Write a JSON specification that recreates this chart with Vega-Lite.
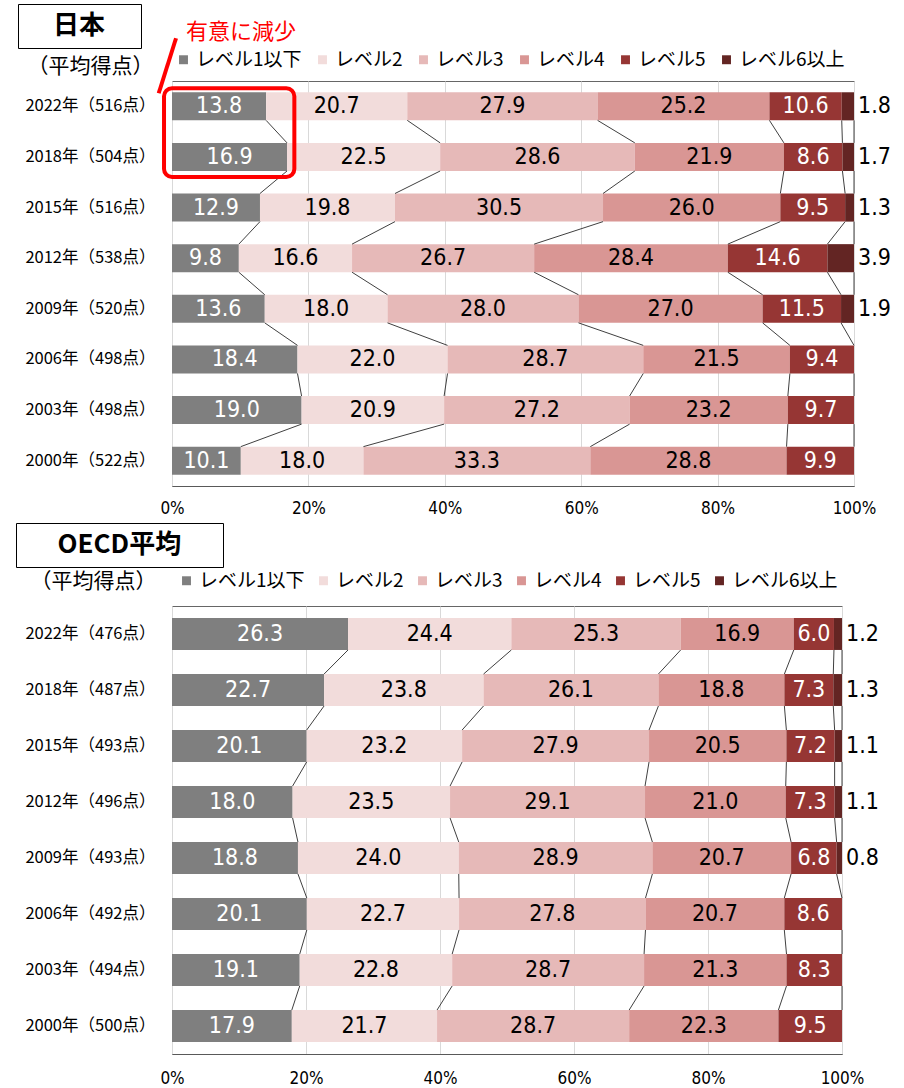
{
  "$schema": "https://vega.github.io/schema/vega-lite/v6.json",
  "padding": {"left": 15, "top": 3, "right": 5, "bottom": 0},
  "spacing": 5,
  "resolve": {"scale": {"color": "independent", "strokeDash": "independent"}, "legend": {"color": "independent", "strokeDash": "independent"}},
  "config": {
    "font": "Noto Sans CJK JP",
    "view": {"stroke": "#666666", "strokeWidth": 1},
    "axis": {"labelColor": "black", "titleColor": "black", "ticks": false}
  },
  "datasets": {
    "note": [{"note": "有意に減少"}],
    "jp": [
      {"group": "日本", "year": 2022, "label": "2022年（516点）", "level": "レベル1以下", "value": 13.8},
      {"group": "日本", "year": 2022, "label": "2022年（516点）", "level": "レベル2", "value": 20.7},
      {"group": "日本", "year": 2022, "label": "2022年（516点）", "level": "レベル3", "value": 27.9},
      {"group": "日本", "year": 2022, "label": "2022年（516点）", "level": "レベル4", "value": 25.2},
      {"group": "日本", "year": 2022, "label": "2022年（516点）", "level": "レベル5", "value": 10.6},
      {"group": "日本", "year": 2022, "label": "2022年（516点）", "level": "レベル6以上", "value": 1.8},
      {"group": "日本", "year": 2018, "label": "2018年（504点）", "level": "レベル1以下", "value": 16.9},
      {"group": "日本", "year": 2018, "label": "2018年（504点）", "level": "レベル2", "value": 22.5},
      {"group": "日本", "year": 2018, "label": "2018年（504点）", "level": "レベル3", "value": 28.6},
      {"group": "日本", "year": 2018, "label": "2018年（504点）", "level": "レベル4", "value": 21.9},
      {"group": "日本", "year": 2018, "label": "2018年（504点）", "level": "レベル5", "value": 8.6},
      {"group": "日本", "year": 2018, "label": "2018年（504点）", "level": "レベル6以上", "value": 1.7},
      {"group": "日本", "year": 2015, "label": "2015年（516点）", "level": "レベル1以下", "value": 12.9},
      {"group": "日本", "year": 2015, "label": "2015年（516点）", "level": "レベル2", "value": 19.8},
      {"group": "日本", "year": 2015, "label": "2015年（516点）", "level": "レベル3", "value": 30.5},
      {"group": "日本", "year": 2015, "label": "2015年（516点）", "level": "レベル4", "value": 26.0},
      {"group": "日本", "year": 2015, "label": "2015年（516点）", "level": "レベル5", "value": 9.5},
      {"group": "日本", "year": 2015, "label": "2015年（516点）", "level": "レベル6以上", "value": 1.3},
      {"group": "日本", "year": 2012, "label": "2012年（538点）", "level": "レベル1以下", "value": 9.8},
      {"group": "日本", "year": 2012, "label": "2012年（538点）", "level": "レベル2", "value": 16.6},
      {"group": "日本", "year": 2012, "label": "2012年（538点）", "level": "レベル3", "value": 26.7},
      {"group": "日本", "year": 2012, "label": "2012年（538点）", "level": "レベル4", "value": 28.4},
      {"group": "日本", "year": 2012, "label": "2012年（538点）", "level": "レベル5", "value": 14.6},
      {"group": "日本", "year": 2012, "label": "2012年（538点）", "level": "レベル6以上", "value": 3.9},
      {"group": "日本", "year": 2009, "label": "2009年（520点）", "level": "レベル1以下", "value": 13.6},
      {"group": "日本", "year": 2009, "label": "2009年（520点）", "level": "レベル2", "value": 18.0},
      {"group": "日本", "year": 2009, "label": "2009年（520点）", "level": "レベル3", "value": 28.0},
      {"group": "日本", "year": 2009, "label": "2009年（520点）", "level": "レベル4", "value": 27.0},
      {"group": "日本", "year": 2009, "label": "2009年（520点）", "level": "レベル5", "value": 11.5},
      {"group": "日本", "year": 2009, "label": "2009年（520点）", "level": "レベル6以上", "value": 1.9},
      {"group": "日本", "year": 2006, "label": "2006年（498点）", "level": "レベル1以下", "value": 18.4},
      {"group": "日本", "year": 2006, "label": "2006年（498点）", "level": "レベル2", "value": 22.0},
      {"group": "日本", "year": 2006, "label": "2006年（498点）", "level": "レベル3", "value": 28.7},
      {"group": "日本", "year": 2006, "label": "2006年（498点）", "level": "レベル4", "value": 21.5},
      {"group": "日本", "year": 2006, "label": "2006年（498点）", "level": "レベル5", "value": 9.4},
      {"group": "日本", "year": 2003, "label": "2003年（498点）", "level": "レベル1以下", "value": 19.0},
      {"group": "日本", "year": 2003, "label": "2003年（498点）", "level": "レベル2", "value": 20.9},
      {"group": "日本", "year": 2003, "label": "2003年（498点）", "level": "レベル3", "value": 27.2},
      {"group": "日本", "year": 2003, "label": "2003年（498点）", "level": "レベル4", "value": 23.2},
      {"group": "日本", "year": 2003, "label": "2003年（498点）", "level": "レベル5", "value": 9.7},
      {"group": "日本", "year": 2000, "label": "2000年（522点）", "level": "レベル1以下", "value": 10.1},
      {"group": "日本", "year": 2000, "label": "2000年（522点）", "level": "レベル2", "value": 18.0},
      {"group": "日本", "year": 2000, "label": "2000年（522点）", "level": "レベル3", "value": 33.3},
      {"group": "日本", "year": 2000, "label": "2000年（522点）", "level": "レベル4", "value": 28.8},
      {"group": "日本", "year": 2000, "label": "2000年（522点）", "level": "レベル5", "value": 9.9}
    ],
    "oecd": [
      {"group": "OECD平均", "year": 2022, "label": "2022年（476点）", "level": "レベル1以下", "value": 26.3},
      {"group": "OECD平均", "year": 2022, "label": "2022年（476点）", "level": "レベル2", "value": 24.4},
      {"group": "OECD平均", "year": 2022, "label": "2022年（476点）", "level": "レベル3", "value": 25.3},
      {"group": "OECD平均", "year": 2022, "label": "2022年（476点）", "level": "レベル4", "value": 16.9},
      {"group": "OECD平均", "year": 2022, "label": "2022年（476点）", "level": "レベル5", "value": 6.0},
      {"group": "OECD平均", "year": 2022, "label": "2022年（476点）", "level": "レベル6以上", "value": 1.2},
      {"group": "OECD平均", "year": 2018, "label": "2018年（487点）", "level": "レベル1以下", "value": 22.7},
      {"group": "OECD平均", "year": 2018, "label": "2018年（487点）", "level": "レベル2", "value": 23.8},
      {"group": "OECD平均", "year": 2018, "label": "2018年（487点）", "level": "レベル3", "value": 26.1},
      {"group": "OECD平均", "year": 2018, "label": "2018年（487点）", "level": "レベル4", "value": 18.8},
      {"group": "OECD平均", "year": 2018, "label": "2018年（487点）", "level": "レベル5", "value": 7.3},
      {"group": "OECD平均", "year": 2018, "label": "2018年（487点）", "level": "レベル6以上", "value": 1.3},
      {"group": "OECD平均", "year": 2015, "label": "2015年（493点）", "level": "レベル1以下", "value": 20.1},
      {"group": "OECD平均", "year": 2015, "label": "2015年（493点）", "level": "レベル2", "value": 23.2},
      {"group": "OECD平均", "year": 2015, "label": "2015年（493点）", "level": "レベル3", "value": 27.9},
      {"group": "OECD平均", "year": 2015, "label": "2015年（493点）", "level": "レベル4", "value": 20.5},
      {"group": "OECD平均", "year": 2015, "label": "2015年（493点）", "level": "レベル5", "value": 7.2},
      {"group": "OECD平均", "year": 2015, "label": "2015年（493点）", "level": "レベル6以上", "value": 1.1},
      {"group": "OECD平均", "year": 2012, "label": "2012年（496点）", "level": "レベル1以下", "value": 18.0},
      {"group": "OECD平均", "year": 2012, "label": "2012年（496点）", "level": "レベル2", "value": 23.5},
      {"group": "OECD平均", "year": 2012, "label": "2012年（496点）", "level": "レベル3", "value": 29.1},
      {"group": "OECD平均", "year": 2012, "label": "2012年（496点）", "level": "レベル4", "value": 21.0},
      {"group": "OECD平均", "year": 2012, "label": "2012年（496点）", "level": "レベル5", "value": 7.3},
      {"group": "OECD平均", "year": 2012, "label": "2012年（496点）", "level": "レベル6以上", "value": 1.1},
      {"group": "OECD平均", "year": 2009, "label": "2009年（493点）", "level": "レベル1以下", "value": 18.8},
      {"group": "OECD平均", "year": 2009, "label": "2009年（493点）", "level": "レベル2", "value": 24.0},
      {"group": "OECD平均", "year": 2009, "label": "2009年（493点）", "level": "レベル3", "value": 28.9},
      {"group": "OECD平均", "year": 2009, "label": "2009年（493点）", "level": "レベル4", "value": 20.7},
      {"group": "OECD平均", "year": 2009, "label": "2009年（493点）", "level": "レベル5", "value": 6.8},
      {"group": "OECD平均", "year": 2009, "label": "2009年（493点）", "level": "レベル6以上", "value": 0.8},
      {"group": "OECD平均", "year": 2006, "label": "2006年（492点）", "level": "レベル1以下", "value": 20.1},
      {"group": "OECD平均", "year": 2006, "label": "2006年（492点）", "level": "レベル2", "value": 22.7},
      {"group": "OECD平均", "year": 2006, "label": "2006年（492点）", "level": "レベル3", "value": 27.8},
      {"group": "OECD平均", "year": 2006, "label": "2006年（492点）", "level": "レベル4", "value": 20.7},
      {"group": "OECD平均", "year": 2006, "label": "2006年（492点）", "level": "レベル5", "value": 8.6},
      {"group": "OECD平均", "year": 2003, "label": "2003年（494点）", "level": "レベル1以下", "value": 19.1},
      {"group": "OECD平均", "year": 2003, "label": "2003年（494点）", "level": "レベル2", "value": 22.8},
      {"group": "OECD平均", "year": 2003, "label": "2003年（494点）", "level": "レベル3", "value": 28.7},
      {"group": "OECD平均", "year": 2003, "label": "2003年（494点）", "level": "レベル4", "value": 21.3},
      {"group": "OECD平均", "year": 2003, "label": "2003年（494点）", "level": "レベル5", "value": 8.3},
      {"group": "OECD平均", "year": 2000, "label": "2000年（500点）", "level": "レベル1以下", "value": 17.9},
      {"group": "OECD平均", "year": 2000, "label": "2000年（500点）", "level": "レベル2", "value": 21.7},
      {"group": "OECD平均", "year": 2000, "label": "2000年（500点）", "level": "レベル3", "value": 28.7},
      {"group": "OECD平均", "year": 2000, "label": "2000年（500点）", "level": "レベル4", "value": 22.3},
      {"group": "OECD平均", "year": 2000, "label": "2000年（500点）", "level": "レベル5", "value": 9.5}
    ]
  },
  "vconcat": [
    {
      "width": 682,
      "height": 405,
      "layer": [
        {
          "data": {"name": "jp"},
          "transform": [
            {"stack": "value", "groupby": ["label"], "sort": [{"field": "level"}], "offset": "normalize", "as": ["x0", "x1"]}
          ],
          "layer": [
            {
              "mark": {"type": "bar"},
              "encoding": {
                "y": {
                  "field": "label", "type": "nominal",
                  "scale": {"domain": ["2022年（516点）", "2018年（504点）", "2015年（516点）", "2012年（538点）", "2009年（520点）", "2006年（498点）", "2003年（498点）", "2000年（522点）"], "paddingInner": 0.445, "paddingOuter": 0.2225},
                  "axis": {"title": "（平均得点）", "titleAngle": 0, "titleAlign": "right", "titleBaseline": "middle", "titleX": -19, "titleY": -15, "titleFontSize": 21, "titleFontWeight": "normal", "labelFontSize": 16.5, "labelPadding": 17, "domain": false}
                },
                "x": {
                  "field": "x0", "type": "quantitative",
                  "scale": {"domain": [0, 1], "nice": false},
                  "axis": {"format": "%", "values": [0, 0.2, 0.4, 0.6, 0.8, 1], "title": null, "labelFont": "DejaVu Sans Condensed, Liberation Sans, sans-serif", "labelFontSize": 17, "labelPadding": 14, "labelFlush": false, "domainColor": "#595959", "gridColor": "#d9d9d9"}
                },
                "x2": {"field": "x1"},
                "color": {
                  "field": "level", "type": "nominal",
                  "scale": {"domain": ["レベル1以下", "レベル2", "レベル3", "レベル4", "レベル5", "レベル6以上"], "range": ["#7f7f7f", "#f2dcdb", "#e6b9b8", "#d99694", "#963634", "#632523"]},
                  "legend": {"title": null, "orient": "none", "legendX": 2, "legendY": -31, "direction": "horizontal", "symbolType": "square", "symbolSize": 80, "symbolStrokeWidth": 0, "labelFontSize": 19, "labelColor": "black", "columnPadding": 11, "labelOffset": 3}
                },
                "strokeDash": {
                  "field": "group", "type": "nominal",
                  "scale": {"range": [[1, 0]]},
                  "legend": {"title": "\u200b\u3000日本\u3000\u200b", "values": [], "orient": "none", "legendX": -154, "legendY": -77, "strokeColor": "black", "padding": 9, "titleFontSize": 26, "titleFontWeight": "bold", "titleColor": "black", "titlePadding": 0, "titleLimit": 400}
                }
              }
            },
            {
              "transform": [
                {"window": [{"op": "lead", "field": "x1", "as": "nx1"}, {"op": "lead", "field": "label", "as": "nlabel"}], "groupby": ["level"], "sort": [{"field": "year", "order": "descending"}]},
                {"filter": "datum.nlabel != null"}
              ],
              "mark": {"type": "rule", "color": "#404040", "strokeWidth": 1},
              "encoding": {
                "x": {"field": "x1", "type": "quantitative"},
                "x2": {"field": "nx1"},
                "y": {"field": "label", "type": "nominal", "bandPosition": 1},
                "y2": {"field": "nlabel", "bandPosition": 0}
              }
            },
            {
              "transform": [
                {"filter": "datum.level !== 'レベル6以上'"},
                {"fold": ["x0", "x1"], "as": ["k", "v"]},
                {"aggregate": [{"op": "mean", "field": "v", "as": "mid"}], "groupby": ["label", "level", "value"]}
              ],
              "mark": {"type": "text", "font": "DejaVu Sans Condensed, Liberation Sans, sans-serif", "fontSize": 23, "baseline": "middle"},
              "encoding": {
                "x": {"field": "mid", "type": "quantitative"},
                "y": {"field": "label", "type": "nominal"},
                "text": {"field": "value", "type": "quantitative", "format": ".1f"},
                "color": {"condition": {"test": "datum.level === 'レベル1以下' || datum.level === 'レベル5'", "value": "white"}, "value": "black"}
              }
            },
            {
              "transform": [{"filter": "datum.level === 'レベル6以上'"}],
              "mark": {"type": "text", "font": "DejaVu Sans Condensed, Liberation Sans, sans-serif", "fontSize": 23, "baseline": "middle", "align": "left", "dx": 4, "color": "black"},
              "encoding": {
                "x": {"field": "x1", "type": "quantitative"},
                "y": {"field": "label", "type": "nominal"},
                "text": {"field": "value", "type": "quantitative", "format": ".1f"}
              }
            }
          ]
        },
        {
          "data": {"name": "note"},
          "mark": {"type": "rect", "filled": false, "stroke": "#ff0000", "strokeWidth": 4, "cornerRadius": 8, "yOffset": -4, "y2Offset": 6},
          "encoding": {
            "x": {"datum": -0.0117, "type": "quantitative"},
            "x2": {"datum": 0.1794},
            "y": {"datum": "2022年（516点）", "type": "nominal", "bandPosition": 0},
            "y2": {"datum": "2018年（504点）", "bandPosition": 1}
          }
        },
        {
          "data": {"name": "note"},
          "mark": {"type": "rule", "stroke": "#ff0000", "strokeWidth": 4, "yOffset": 1, "y2Offset": -54},
          "encoding": {
            "x": {"datum": -0.0195, "type": "quantitative"},
            "x2": {"datum": 0.0059},
            "y": {"datum": "2022年（516点）", "type": "nominal", "bandPosition": 0},
            "y2": {"datum": "2022年（516点）", "bandPosition": 0}
          }
        },
        {
          "data": {"name": "note"},
          "mark": {"type": "text", "color": "#ff0000", "fontSize": 22, "fontWeight": "normal", "align": "left", "baseline": "middle", "dy": -60},
          "encoding": {
            "text": {"field": "note", "type": "nominal"},
            "x": {"datum": 0.0205, "type": "quantitative"},
            "y": {"datum": "2022年（516点）", "type": "nominal", "bandPosition": 0}
          }
        }
      ]
    },
    {
      "width": 670,
      "height": 448,
      "data": {"name": "oecd"},
      "transform": [
        {"stack": "value", "groupby": ["label"], "sort": [{"field": "level"}], "offset": "normalize", "as": ["x0", "x1"]}
      ],
      "layer": [
        {
          "mark": {"type": "bar"},
          "encoding": {
            "y": {
              "field": "label", "type": "nominal",
              "scale": {"domain": ["2022年（476点）", "2018年（487点）", "2015年（493点）", "2012年（496点）", "2009年（493点）", "2006年（492点）", "2003年（494点）", "2000年（500点）"], "paddingInner": 0.43, "paddingOuter": 0.215},
              "axis": {"title": "（平均得点）", "titleAngle": 0, "titleAlign": "right", "titleBaseline": "middle", "titleX": -16, "titleY": -25, "titleFontSize": 21, "titleFontWeight": "normal", "labelFontSize": 16.5, "labelPadding": 17, "domain": false}
            },
            "x": {
              "field": "x0", "type": "quantitative",
              "scale": {"domain": [0, 1], "nice": false},
              "axis": {"format": "%", "values": [0, 0.2, 0.4, 0.6, 0.8, 1], "title": null, "labelFont": "DejaVu Sans Condensed, Liberation Sans, sans-serif", "labelFontSize": 17, "labelPadding": 16, "labelFlush": false, "domainColor": "#595959", "gridColor": "#d9d9d9"}
            },
            "x2": {"field": "x1"},
            "color": {
              "field": "level", "type": "nominal",
              "scale": {"domain": ["レベル1以下", "レベル2", "レベル3", "レベル4", "レベル5", "レベル6以上"], "range": ["#7f7f7f", "#f2dcdb", "#e6b9b8", "#d99694", "#963634", "#632523"]},
              "legend": {"title": null, "orient": "none", "legendX": 5, "legendY": -35, "direction": "horizontal", "symbolType": "square", "symbolSize": 80, "symbolStrokeWidth": 0, "labelFontSize": 19, "labelColor": "black", "columnPadding": 9, "labelOffset": 3}
            },
            "strokeDash": {
              "field": "group", "type": "nominal",
              "scale": {"range": [[1, 0]]},
              "legend": {"title": "\u200b\u2005\u3000OECD平均\u3000\u2005\u200b", "values": [], "orient": "none", "legendX": -156, "legendY": -83, "strokeColor": "black", "padding": 9, "titleFontSize": 26, "titleFontWeight": "bold", "titleColor": "black", "titlePadding": 0, "titleLimit": 400}
            }
          }
        },
        {
          "transform": [
            {"window": [{"op": "lead", "field": "x1", "as": "nx1"}, {"op": "lead", "field": "label", "as": "nlabel"}], "groupby": ["level"], "sort": [{"field": "year", "order": "descending"}]},
            {"filter": "datum.nlabel != null"}
          ],
          "mark": {"type": "rule", "color": "#404040", "strokeWidth": 1},
          "encoding": {
            "x": {"field": "x1", "type": "quantitative"},
            "x2": {"field": "nx1"},
            "y": {"field": "label", "type": "nominal", "bandPosition": 1},
            "y2": {"field": "nlabel", "bandPosition": 0}
          }
        },
        {
          "transform": [
            {"filter": "datum.level !== 'レベル6以上'"},
            {"fold": ["x0", "x1"], "as": ["k", "v"]},
            {"aggregate": [{"op": "mean", "field": "v", "as": "mid"}], "groupby": ["label", "level", "value"]}
          ],
          "mark": {"type": "text", "font": "DejaVu Sans Condensed, Liberation Sans, sans-serif", "fontSize": 23, "baseline": "middle"},
          "encoding": {
            "x": {"field": "mid", "type": "quantitative"},
            "y": {"field": "label", "type": "nominal"},
            "text": {"field": "value", "type": "quantitative", "format": ".1f"},
            "color": {"condition": {"test": "datum.level === 'レベル1以下' || datum.level === 'レベル5'", "value": "white"}, "value": "black"}
          }
        },
        {
          "transform": [{"filter": "datum.level === 'レベル6以上'"}],
          "mark": {"type": "text", "font": "DejaVu Sans Condensed, Liberation Sans, sans-serif", "fontSize": 23, "baseline": "middle", "align": "left", "dx": 4, "color": "black"},
          "encoding": {
            "x": {"field": "x1", "type": "quantitative"},
            "y": {"field": "label", "type": "nominal"},
            "text": {"field": "value", "type": "quantitative", "format": ".1f"}
          }
        }
      ]
    }
  ]
}
